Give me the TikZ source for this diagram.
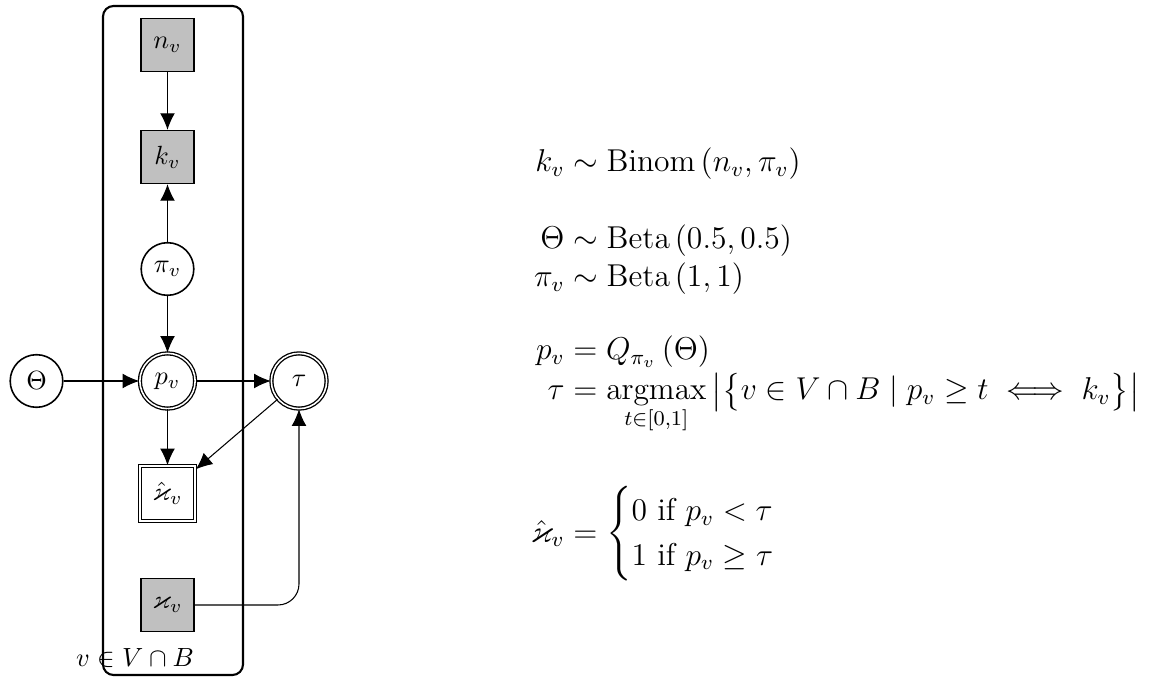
\documentclass[tikz,border=0pt]{standalone}
\usepackage{amsmath,amssymb}
\usetikzlibrary{arrows.meta}
\definecolor{obsgray}{RGB}{192,192,192}
\begin{document}
\begin{tikzpicture}[x=0.38pt,y=-0.38pt,
  lat/.style={circle,draw,fill=white,line width=0.6pt,minimum size=20pt,inner sep=1pt,font=\fontsize{10}{12}\selectfont},
  latdbl/.style={lat,double,line width=0.5pt,minimum size=21pt},
  obsbox/.style={rectangle,draw,fill=obsgray,line width=0.6pt,minimum size=20pt,inner sep=1pt,font=\fontsize{10}{12}\selectfont},
  detbox/.style={rectangle,draw,fill=white,double,line width=0.5pt,minimum size=21pt,inner sep=1pt,font=\fontsize{10}{12}\selectfont},
  edge/.style={-{Latex[length=6.3pt,width=5.6pt]},line width=0.4pt},
  platebox/.style={draw,line width=0.8pt,rounded corners=4pt},
  eq/.style={anchor=base west,inner sep=0pt,font=\large}]
\useasboundingbox (0,0) rectangle (1160,677);
% plate
\draw[platebox] (103,6) rectangle (243,675);
\node[anchor=base,inner sep=0pt,font=\fontsize{10}{12}\selectfont] (platelabel) at (135,666) {$v\in V\cap B$};
% nodes
\node[obsbox] (n) at (167.5,45) {$n_v$};
\node[obsbox] (k) at (167.5,157) {$k_v$};
\node[lat] (pi) at (167.5,269) {$\pi_v$};
\node[latdbl] (p) at (167.5,381) {$p_v$};
\node[detbox] (xh) at (167.5,493.5) {$\hat{\varkappa}_v$};
\node[obsbox] (x) at (167.5,605) {$\varkappa_v$};
\node[lat] (theta) at (36.5,381) {$\Theta$};
\node[latdbl] (tau) at (299,381) {$\tau$};
% edges
\draw[edge] (n) -- (k);
\draw[edge] (pi) -- (k);
\draw[edge] (pi) -- (p);
\draw[edge] (theta) -- (p);
\draw[edge] (p) -- (tau);
\draw[edge] (p) -- (xh);
\draw[edge] (tau) -- (xh);
\draw[edge,rounded corners=8pt] (x) -| (tau);
% equations
\node[eq] (e1) at (564,172) {\llap{$k_v$}${}\sim\mathrm{Binom}\left(n_v,\pi_v\right)$};
\node[eq] (e2) at (564,249) {\llap{$\Theta$}${}\sim\mathrm{Beta}\left(0.5,0.5\right)$};
\node[eq] (e3) at (564,287) {\llap{$\pi_v$}${}\sim\mathrm{Beta}\left(1,1\right)$};
\node[eq] (e4) at (564,360) {\llap{$p_v$}${}=Q_{\pi_v}\left(\Theta\right)$};
\node[eq] (e5) at (564,400) {\llap{$\tau$}$\displaystyle{}=\operatorname*{argmax}_{\smash{t\in[0,1]}}\left|\bigl\{v\in V\cap B\mid p_v\geq t\iff k_v\bigr\}\right|$};
\node[eq] (e6) at (564,542) {\llap{$\hat{\varkappa}_v$}$\displaystyle{}=\begin{cases}0\text{ if }p_v<\tau\\1\text{ if }p_v\geq\tau\end{cases}$};
\end{tikzpicture}
\end{document}
